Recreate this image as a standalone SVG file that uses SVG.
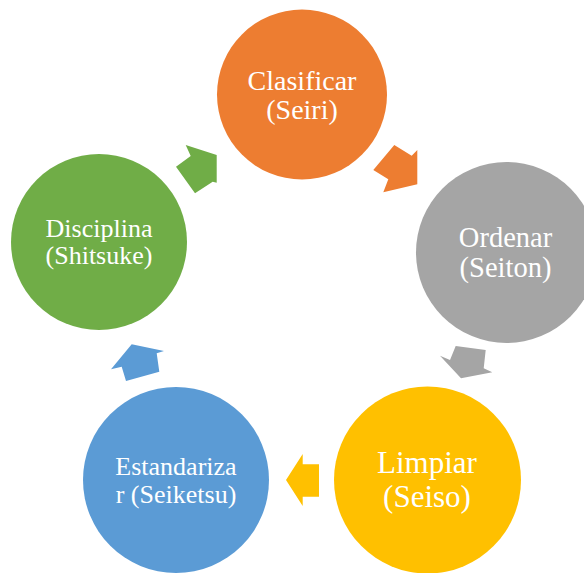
<svg xmlns="http://www.w3.org/2000/svg" width="584" height="573" viewBox="0 0 584 573">
  <style>
    .label { font-family: "Liberation Serif", "Times New Roman", serif; fill: #FFFFFF; text-anchor: middle; }
    .orange { fill: #ED7D31; }
    .gray { fill: #A5A5A5; }
    .gold { fill: #FFC000; }
    .blue { fill: #5B9BD5; }
    .green { fill: #70AD47; }
  </style>
  <rect width="584" height="573" fill="#FFFFFF"/>

  <!-- connectors: block arrows between steps of the 5S cycle -->
  <g id="connectors">
    <polygon class="orange" points="394.3,145 411.7,155.7 417.3,150 417.3,184.3 383.3,192.3 388.3,179.3 373.3,170"/>
    <polygon class="gray" points="455.7,346 485.7,350 483.7,368.3 492.3,372.3 461,378.3 440,355.7 450,360"/>
    <polygon class="gold" points="286,480 302.7,454 302.7,464.3 319,464.3 319,496.7 302.7,496.7 302.7,506"/>
    <polygon class="blue" points="131.7,344.3 164,351 156.7,353.3 159.3,371.7 126,381 121.7,366.7 111,369.3"/>
    <polygon class="green" points="185.7,145 216.7,155 216.7,182.7 212.7,181.7 195,193.3 176,166.7 190.7,156"/>
  </g>

  <g id="clasificar">
    <circle class="orange" cx="302" cy="94.5" r="85"/>
    <text class="label" x="302" y="90" font-size="28">Clasificar</text>
    <text class="label" x="302" y="119" font-size="28">(Seiri)</text>
  </g>

  <g id="ordenar">
    <circle class="gray" cx="506.5" cy="252.5" r="90.5"/>
    <text class="label" x="505.5" y="247" font-size="28.5">Ordenar</text>
    <text class="label" x="505.5" y="277" font-size="28.5">(Seiton)</text>
  </g>

  <g id="limpiar">
    <circle class="gold" cx="427.5" cy="480" r="93.5"/>
    <text class="label" x="427" y="473" font-size="31">Limpiar</text>
    <text class="label" x="427" y="506.5" font-size="31">(Seiso)</text>
  </g>

  <g id="estandarizar">
    <circle class="blue" cx="176" cy="480" r="93"/>
    <text class="label" x="176" y="475" font-size="26">Estandariza</text>
    <text class="label" x="176" y="503" font-size="26">r (Seiketsu)</text>
  </g>

  <g id="disciplina">
    <circle class="green" cx="99" cy="242" r="88"/>
    <text class="label" x="99" y="237" font-size="26">Disciplina</text>
    <text class="label" x="99" y="263.5" font-size="26">(Shitsuke)</text>
  </g>
</svg>
